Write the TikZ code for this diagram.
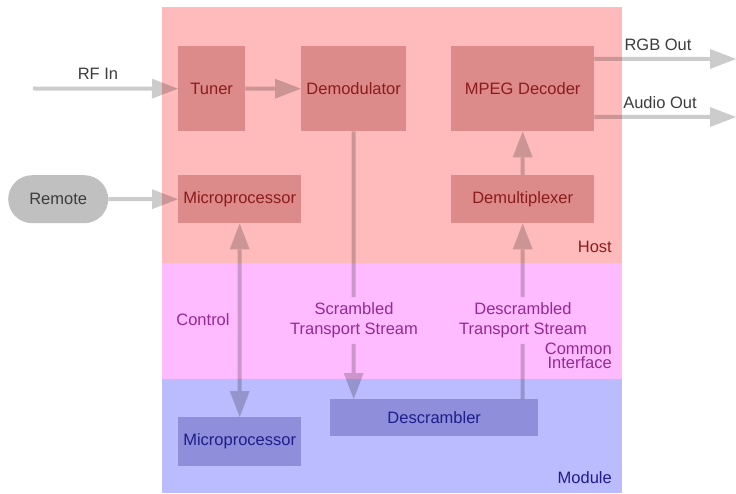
\documentclass[tikz,border=0pt]{standalone}
\usepackage{fontspec}
\setmainfont{Liberation Sans}
\usetikzlibrary{arrows.meta}
\definecolor{hostbg}{RGB}{255,187,187}
\definecolor{cibg}{RGB}{255,187,255}
\definecolor{modbg}{RGB}{187,187,255}
\definecolor{hostbox}{RGB}{221,138,138}
\definecolor{modbox}{RGB}{142,142,218}
\definecolor{remotebg}{RGB}{192,192,192}
\definecolor{hosttxt}{RGB}{140,28,28}
\definecolor{citxt}{RGB}{150,40,150}
\definecolor{modtxt}{RGB}{30,30,140}
\definecolor{outtxt}{RGB}{60,60,60}
\tikzset{
  base/.style={inner sep=0pt, font=\fontsize{16.5}{20}\selectfont},
  hbox/.style={base, fill=hostbox, text=hosttxt, anchor=north west},
  mbox/.style={base, fill=modbox, text=modtxt, anchor=north west},
  tip/.tip={Triangle[length=26pt,width=20pt,line width=0pt]},
  conn/.style={draw=black, fill=black, line width=4pt, -tip},
  biconn/.style={conn, tip-tip},
  plain/.style={draw=black, line width=4pt},
  lbl/.style={base, align=center, inner sep=2pt},
}
\begin{document}
\begin{tikzpicture}[x=1pt,y=-1pt]
\useasboundingbox (0,0) rectangle (736,494);
% regions
\fill[hostbg] (162,7) rectangle (622,263);
\fill[cibg] (162,263) rectangle (622,379);
\fill[modbg] (162,379) rectangle (622,493);
\node[base, text=hosttxt, anchor=east] (hostlbl) at (612,247) {Host};
\node[base, text=citxt, anchor=east, align=right, font=\fontsize{16.5}{14}\selectfont] (cilbl) at (612,356) {Common\\Interface};
\node[base, text=modtxt, anchor=east] (modlbl) at (612,478) {Module};
% boxes
\node[hbox, minimum width=67pt, minimum height=85pt] (tuner) at (178,46) {Tuner};
\node[hbox, minimum width=105pt, minimum height=85pt] (demod) at (301,46) {Demodulator};
\node[hbox, minimum width=143pt, minimum height=85pt] (mpeg) at (451,46) {MPEG Decoder};
\node[hbox, minimum width=123pt, minimum height=48pt] (micro) at (178,175) {Microprocessor};
\node[hbox, minimum width=143pt, minimum height=48pt] (demux) at (451,175) {Demultiplexer};
\node[base, fill=remotebg, text=outtxt, anchor=north west, minimum width=100pt, minimum height=48pt, rounded corners=24pt] (remote) at (8,175) {Remote};
\node[mbox, minimum width=208pt, minimum height=37pt] (desc) at (330,399) {Descrambler};
\node[mbox, minimum width=123pt, minimum height=49pt] (mmicro) at (178,417) {Microprocessor};
% labels
\node[lbl, text=outtxt] (rflbl) at (98,74) {RF In};
\node[lbl, text=outtxt] (rgblbl) at (658,45) {RGB Out};
\node[lbl, text=outtxt] (audlbl) at (660,103) {Audio Out};
\node[lbl, text=citxt] (ctrl) at (203,320) {Control};
\node[lbl, text=citxt] (scr) at (354,320) {Scrambled\\Transport Stream};
\node[lbl, text=citxt] (dsc) at (523,320) {Descrambled\\Transport Stream};
% free ends
\coordinate (rfstart) at (33,88.5);
\coordinate (rgbend) at (736,59);
\coordinate (audend) at (736,117);
% connectors
\begin{scope}[transparency group, opacity=0.2]
\draw[conn] (rfstart) -- (tuner.west);
\draw[conn] (tuner) -- (demod);
\draw[conn] (remote) -- (micro);
\draw[conn] (demux) -- (mpeg);
\draw[conn] (mpeg.east |- rgbend) -- (rgbend);
\draw[conn] (mpeg.east |- audend) -- (audend);
\draw[biconn] (micro) -- (mmicro);
\draw[plain, shorten >=3pt] (demod.south) -- (demod.south |- scr.north);
\draw[conn, shorten <=4pt] (demod.south |- scr.south) -- (desc.north -| demod.south);
\draw[plain, shorten >=4pt] (desc.north -| demux.south) -- (demux.south |- dsc.south);
\draw[conn, shorten <=3pt] (demux.south |- dsc.north) -- (demux.south);
\end{scope}
\end{tikzpicture}
\end{document}
